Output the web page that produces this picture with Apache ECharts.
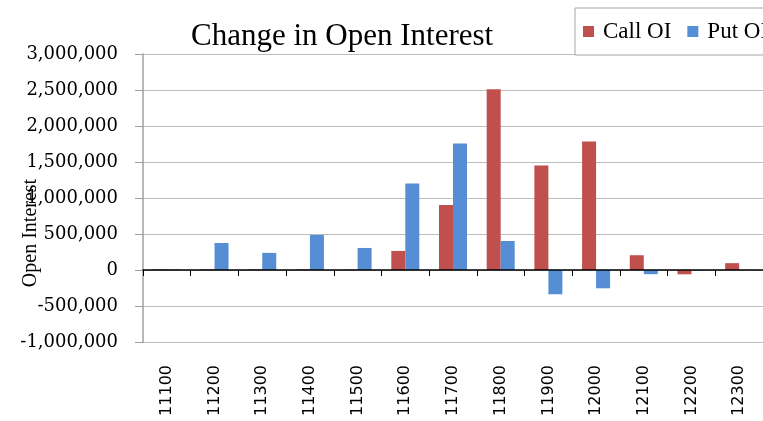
<!DOCTYPE html>
<html>
<head>
<meta charset="utf-8">
<title>Change in Open Interest</title>
<script src="https://cdn.jsdelivr.net/npm/echarts@6/dist/echarts.min.js"></script>
<style>
  html, body { margin: 0; padding: 0; background: #fff; }
  #chart-container { width: 763px; height: 421px; }
</style>
</head>
<body>
<div id="chart-container"></div>
<script>
// ************************************************* //
// * +++++++++++ Data ++++++++++++ * //
// ************************************************* //

var strikes = ['11100', '11200', '11300', '11400', '11500', '11600', '11700',
  '11800', '11900', '12000', '12100', '12200', '12300'];
var callOI = [9000, 8000, 8000, 8000, 6000, 265000, 903000, 2510000, 1450000, 1785000, 205000, -60000, 95000];
var putOI = [7000, 375000, 238000, 487000, 306000, 1200000, 1757000, 403000, -337000, -254000, -58000, -6000, 3000];
var yTicks = { min: -1000000, max: 3000000, step: 500000 };

var serifFont = '"Liberation Serif", serif';

// ************************************************* //
// * +++++++++++ Chart ++++++++++++ * //
// ************************************************* //

var dom = document.getElementById('chart-container');
var myChart = echarts.init(dom, null, { renderer: 'canvas' });

var option = {
  animation: false,
  backgroundColor: '#fff',
  title: {
    text: 'Change in Open Interest',
    left: 191,
    top: 21,
    padding: 0,
    textStyle: { fontFamily: serifFont, fontSize: 31, fontWeight: 'normal', color: '#000' }
  },
  legend: {
    orient: 'horizontal',
    left: 575,
    top: 8,
    width: 300,
    padding: [12, 8, 12, 8],
    itemWidth: 11,
    itemHeight: 11,
    itemGap: 16,
    icon: 'rect',
    borderColor: '#a6a6a6',
    borderWidth: 1,
    backgroundColor: '#fff',
    textStyle: { fontFamily: serifFont, fontSize: 23, color: '#000', padding: [0, 0, 0, 4] },
    data: ['Call OI', 'Put OI']
  },
  grid: { left: 143, right: 0, top: 54, bottom: 79 },
  xAxis: [
    {
      // zero line with ticks
      type: 'category',
      data: strikes,
      z: 10,
      axisLine: { onZero: true, lineStyle: { color: '#000', width: 1.5 } },
      axisTick: { show: true, length: 6, lineStyle: { color: '#000' } },
      axisLabel: { show: false }
    },
    {
      // labels sitting below the plot
      type: 'category',
      data: strikes,
      position: 'bottom',
      axisLine: { show: false, onZero: false },
      axisTick: { show: false },
      axisLabel: {
        rotate: 90,
        margin: 23,
        interval: 0,
        fontFamily: '"DejaVu Sans", sans-serif',
        fontSize: 16,
        color: '#000'
      }
    }
  ],
  yAxis: {
    type: 'value',
    min: yTicks.min,
    max: yTicks.max,
    interval: yTicks.step,
    axisLine: { show: true, lineStyle: { color: '#a0a0a0', width: 1.5 } },
    axisTick: { show: true, length: 8, lineStyle: { color: '#a0a0a0' } },
    splitLine: { show: true, lineStyle: { color: '#bdbdbd', width: 1 } },
    axisLabel: {
      margin: 25,
      fontFamily: '"DejaVu Serif", serif',
      fontSize: 18,
      color: '#000',
      formatter: function (v) { return echarts.format.addCommas(v); }
    }
  },
  graphic: [
    {
      type: 'text',
      x: 31,
      y: 233,
      rotation: Math.PI / 2,
      style: {
        text: 'Open Interest',
        fontFamily: serifFont,
        fontSize: 20,
        fill: '#000',
        align: 'center',
        verticalAlign: 'middle'
      }
    }
  ],
  series: [
    {
      name: 'Call OI',
      type: 'bar',
      data: callOI,
      barWidth: 14,
      barGap: '0%',
      itemStyle: { color: '#C0504D' }
    },
    {
      name: 'Put OI',
      type: 'bar',
      data: putOI,
      barWidth: 14,
      barGap: '0%',
      itemStyle: { color: '#558ED5' }
    }
  ]
};

myChart.setOption(option);
window.addEventListener('resize', myChart.resize);
</script>
</body>
</html>
